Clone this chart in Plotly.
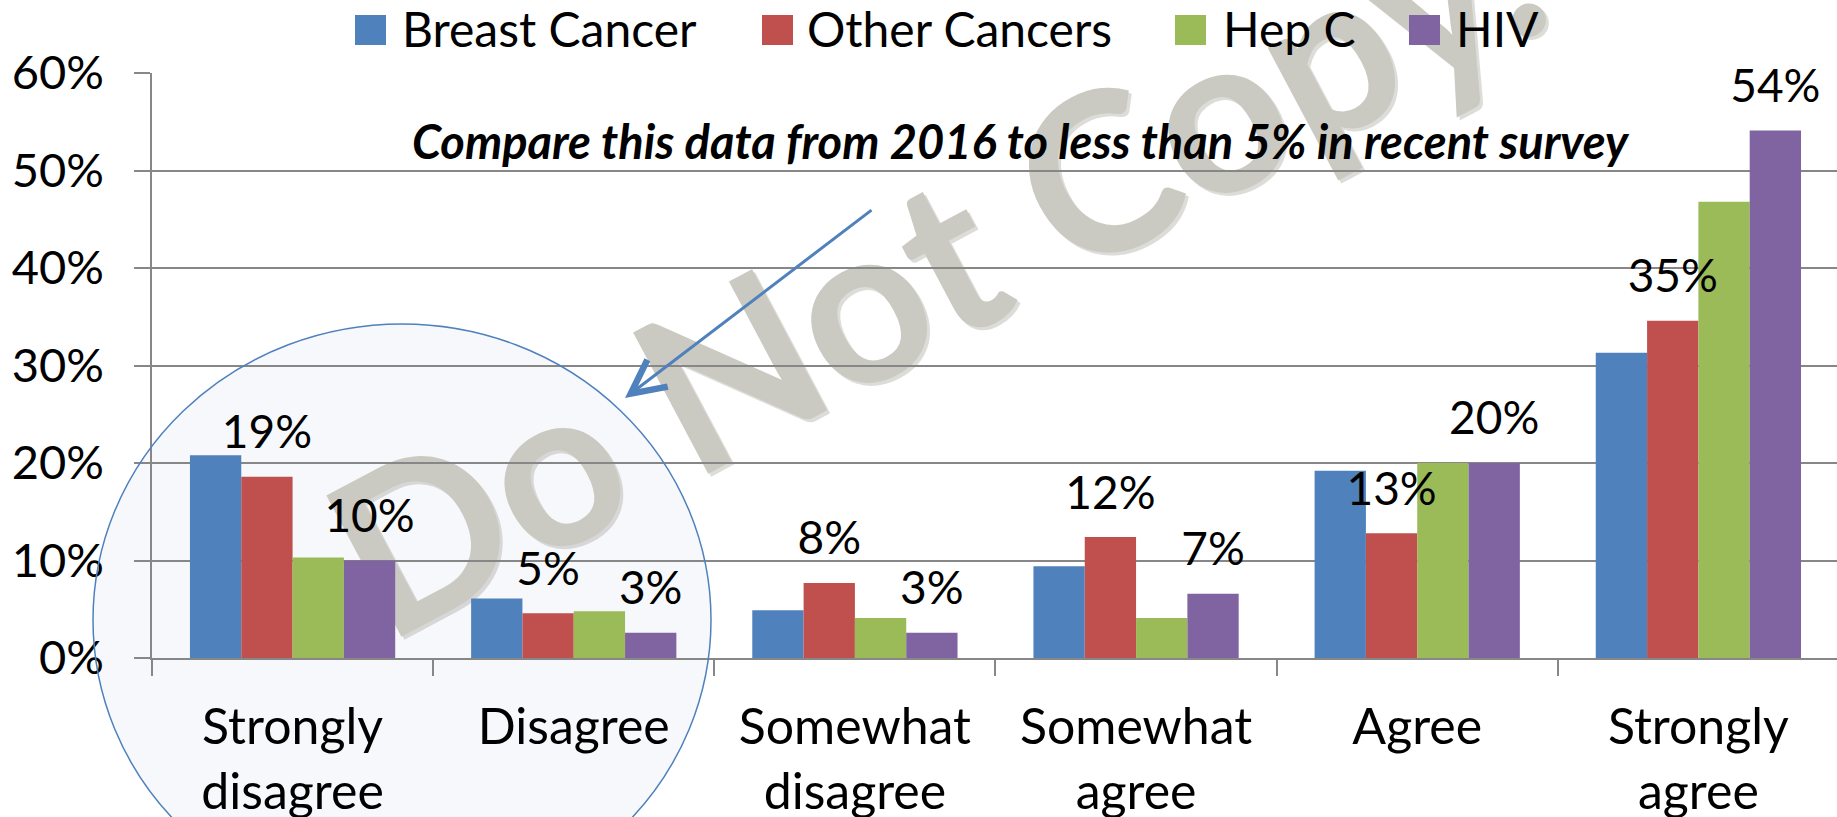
import plotly.graph_objects as go

# ---------------- data ----------------
categories = ["Strongly<br>disagree", "Disagree", "Somewhat<br>disagree",
              "Somewhat<br>agree", "Agree", "Strongly<br>agree"]
series_names = ["Breast Cancer", "Other Cancers", "Hep C", "HIV"]
breast_cancer = [20.8, 6.1, 4.9, 9.4, 19.2, 31.3]
other_cancers = [18.6, 4.6, 7.7, 12.4, 12.8, 34.6]
hep_c = [10.3, 4.8, 4.1, 4.1, 20.0, 46.8]
hiv = [10.0, 2.6, 2.6, 6.6, 20.0, 54.1]
y_ticks = [0, 10, 20, 30, 40, 50, 60]
y_tick_labels = ["0%", "10%", "20%", "30%", "40%", "50%", "60%"]
labelled_series = ["Other Cancers", "HIV"]
note_text = "Compare this data from 2016 to less than 5% in recent survey"
watermark_text = "Do Not Copy."

series_values = [breast_cancer, other_cancers, hep_c, hiv]
colors = ["#4F81BD", "#C0504D", "#9BBB59", "#8064A2"]

# ---------------- geometry / style ----------------
W, H = 1837, 817
L, T, B = 152, 73, 159
PW, PH = W - L, H - T - B
FONT = "Lato"
GRID = "#878787"
LABEL_LIFT = 1.6  # axis units between bar top and its label


def px(x):
    return (x - L) / PW


def py(y):
    return (H - B - y) / PH


fig = go.Figure()

for i, (name, vals) in enumerate(zip(series_names, series_values)):
    fig.add_trace(go.Bar(
        x=categories, y=vals, name=name, offsetgroup=str(i),
        marker=dict(color=colors[i], line=dict(width=0)),
        showlegend=False,
    ))

# data labels, drawn after all bars so they sit on top
for name in labelled_series:
    i = series_names.index(name)
    vals = series_values[i]
    fig.add_trace(go.Bar(
        x=categories, y=vals, base=LABEL_LIFT, offsetgroup=str(i),
        marker=dict(color="rgba(0,0,0,0)", line=dict(width=0)),
        text=[f"{round(v)}%" for v in vals], textposition="outside",
        textangle=0, constraintext="none",
        textfont=dict(family=FONT, size=46, color="black"),
        cliponaxis=False, showlegend=False, hoverinfo="skip",
    ))

shapes = []
annotations = []

# highlight circle (fill below, outline above)
cx0, cx1, cy0, cy1 = px(93), px(711), py(916), py(324)
shapes.append(dict(type="circle", xref="paper", yref="paper",
                   x0=cx0, x1=cx1, y0=cy0, y1=cy1, layer="below",
                   line=dict(width=0), fillcolor="rgba(222,230,242,0.28)"))
shapes.append(dict(type="circle", xref="paper", yref="paper",
                   x0=cx0, x1=cx1, y0=cy0, y1=cy1, layer="above",
                   line=dict(width=1.5, color="#4F81BD"),
                   fillcolor="rgba(0,0,0,0)"))

# watermark (below bars): soft shadow first, then the text
WM_X, WM_Y, WM_SIZE, WM_ANGLE = 931, 255, 221, -28
for dx, dy, col in [(3, 3, "rgba(140,140,130,0.30)"), (0, 0, "#CACAC2")]:
    wx, wy = px(WM_X + dx), py(WM_Y + dy)
    shapes.append(dict(type="rect", xref="paper", yref="paper",
                       x0=wx - 0.001, x1=wx + 0.001, y0=wy - 0.001, y1=wy + 0.001,
                       layer="below", line=dict(width=0),
                       fillcolor="rgba(0,0,0,0)",
                       label=dict(text="<b>" + watermark_text + "</b>",
                                  textangle=WM_ANGLE,
                                  textposition="middle center",
                                  font=dict(family=FONT, size=WM_SIZE,
                                            color=col))))

# manual legend
legend_square_x = [355, 762, 1175, 1409]
legend_text_x = [400, 805, 1221, 1454]
for name, color, sx, tx in zip(series_names, colors, legend_square_x, legend_text_x):
    shapes.append(dict(type="rect", xref="paper", yref="paper",
                       x0=px(sx), x1=px(sx + 31), y0=py(45), y1=py(15),
                       line=dict(width=0), fillcolor=color))
    annotations.append(dict(text=name, xref="paper", yref="paper",
                            x=px(tx), y=py(28), xanchor="left", yanchor="middle",
                            showarrow=False,
                            font=dict(family=FONT, size=48, color="black")))

# note
annotations.append(dict(text="<b><i>" + note_text + "</i></b>",
                        xref="paper", yref="paper", x=px(1021), y=py(141),
                        xanchor="center", yanchor="middle", showarrow=False,
                        font=dict(family=FONT, size=47, color="black")))
# arrow
annotations.append(dict(text="", xref="paper", yref="paper",
                        x=px(625), y=py(398), ax=873 - 625, ay=209 - 398,
                        showarrow=True, arrowhead=5, arrowsize=2.2,
                        arrowwidth=3, arrowcolor="#4F81BD", standoff=0))

fig.update_layout(
    width=W, height=H,
    margin=dict(l=L, r=0, t=T, b=B, pad=0),
    paper_bgcolor="white", plot_bgcolor="rgba(0,0,0,0)",
    barmode="group", bargap=0.27, bargroupgap=0,
    shapes=shapes, annotations=annotations,
    font=dict(family=FONT, color="black"),
    showlegend=False,
)

fig.update_xaxes(
    type="category", range=[-0.5, 5.493], automargin=False,
    showgrid=False, showline=True, linecolor=GRID, linewidth=2,
    ticks="outside", tickson="boundaries", ticklen=16, tickcolor=GRID,
    tickwidth=1.5, tickfont=dict(family=FONT, size=50, color="black"),
    ticklabelstandoff=24,
)
fig.update_yaxes(
    range=[0, 60], tickmode="array", tickvals=y_ticks, ticktext=y_tick_labels,
    automargin=False,
    showgrid=True, gridcolor=GRID, gridwidth=1.5, zeroline=False,
    showline=True, linecolor=GRID, linewidth=1.5,
    ticks="outside", ticklen=16, tickcolor=GRID, tickwidth=1.5,
    tickfont=dict(family=FONT, size=47, color="black"),
    ticklabelstandoff=21,
)

fig.write_html(
    "out.html",
    config={"displayModeBar": False},
    post_script="document.body.style.margin='0';document.body.style.overflow='hidden';",
)
